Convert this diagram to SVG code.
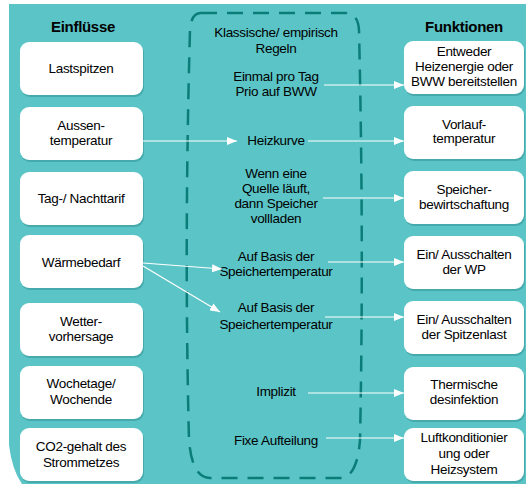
<svg xmlns="http://www.w3.org/2000/svg" width="526" height="484" viewBox="0 0 526 484">
  <style>
    .bg { fill: #5bc4c6; }
    .box { fill: #ffffff; }
    .shadow { fill: #46a9ab; }
    .txt { font-family: "Liberation Sans", Arial, sans-serif; font-size: 13.5px; fill: #000; text-anchor: middle; letter-spacing: -0.3px; }
    .hdr { font-family: "Liberation Sans", Arial, sans-serif; font-size: 15px; font-weight: bold; fill: #000; text-anchor: middle; letter-spacing: -0.3px; }
    .rules { fill: none; stroke: #0b7d78; stroke-width: 2.5; stroke-dasharray: 16 10; }
    .conn { stroke: #ffffff; stroke-width: 1.2; fill: none; marker-end: url(#arrow); }
    .plain { stroke: #ffffff; stroke-width: 1.2; fill: none; }
  </style>
  <defs>
    <marker id="arrow" viewBox="0 0 10 8" refX="10" refY="4" markerWidth="10" markerHeight="8" markerUnits="userSpaceOnUse" orient="auto">
      <path d="M0 0 L10 4 L0 8 Z" fill="#ffffff"/>
    </marker>
  </defs>

  <!-- backdrop -->
  <path class="bg" d="M9 4 H526 V484 H22 Q12 470 9 445 Z"/>

  <!-- column headers -->
  <text class="hdr" x="83" y="32">Einflüsse</text>
  <text class="hdr" x="464" y="32">Funktionen</text>

  <!-- rule column -->
  <g id="rules">
    <path class="rules" d="M201 13 L345 13 Q358 13 359 30 Q364 245 360 440 Q357 478 340 478 L210 478 Q192 478 189 440 Q184 245 190 30 Q191 13 201 13 Z"/>
    <text class="txt" x="276" y="37">Klassische/ empirisch</text>
    <text class="txt" x="276" y="53">Regeln</text>
    <text class="txt" x="276" y="81">Einmal pro Tag</text>
    <text class="txt" x="276" y="96">Prio auf BWW</text>
    <text class="txt" x="276" y="145">Heizkurve</text>
    <text class="txt" x="276" y="178">Wenn eine</text>
    <text class="txt" x="276" y="193">Quelle läuft,</text>
    <text class="txt" x="276" y="208">dann Speicher</text>
    <text class="txt" x="276" y="223">vollladen</text>
    <text class="txt" x="276" y="261">Auf Basis der</text>
    <text class="txt" x="276" y="276">Speichertemperatur</text>
    <text class="txt" x="276" y="312">Auf Basis der</text>
    <text class="txt" x="276" y="329">Speichertemperatur</text>
    <text class="txt" x="276" y="396">Implizit</text>
    <text class="txt" x="276" y="445">Fixe Aufteilung</text>
  </g>

  <!-- influences -->
  <g id="in-lastspitzen">
    <rect class="shadow" x="21" y="44" width="123" height="53" rx="9"/>
    <rect class="box" x="20" y="42" width="123" height="53" rx="9"/>
    <text class="txt" x="81" y="73">Lastspitzen</text>
  </g>
  <g id="in-aussentemperatur">
    <rect class="shadow" x="21" y="109" width="123" height="53" rx="9"/>
    <rect class="box" x="20" y="107" width="123" height="53" rx="9"/>
    <text class="txt" x="81" y="130">Aussen-</text>
    <text class="txt" x="81" y="145">temperatur</text>
  </g>
  <g id="in-tarif">
    <rect class="shadow" x="21" y="174" width="123" height="53" rx="9"/>
    <rect class="box" x="20" y="172" width="123" height="53" rx="9"/>
    <text class="txt" x="81" y="203">Tag-/ Nachttarif</text>
  </g>
  <g id="in-waermebedarf">
    <rect class="shadow" x="21" y="237" width="123" height="53" rx="9"/>
    <rect class="box" x="20" y="235" width="123" height="53" rx="9"/>
    <text class="txt" x="81" y="267">Wärmebedarf</text>
  </g>
  <g id="in-wetter">
    <rect class="shadow" x="21" y="305" width="123" height="53" rx="9"/>
    <rect class="box" x="20" y="303" width="123" height="53" rx="9"/>
    <text class="txt" x="81" y="326">Wetter-</text>
    <text class="txt" x="81" y="341">vorhersage</text>
  </g>
  <g id="in-wochentage">
    <rect class="shadow" x="21" y="368" width="123" height="53" rx="9"/>
    <rect class="box" x="20" y="366" width="123" height="53" rx="9"/>
    <text class="txt" x="81" y="388">Wochetage/</text>
    <text class="txt" x="81" y="404">Wochende</text>
  </g>
  <g id="in-co2">
    <rect class="shadow" x="21" y="430" width="123" height="53" rx="9"/>
    <rect class="box" x="20" y="428" width="123" height="53" rx="9"/>
    <text class="txt" x="81" y="451">CO2-gehalt des</text>
    <text class="txt" x="81" y="467">Strommetzes</text>
  </g>

  <!-- functions -->
  <g id="fn-bereitstellen">
    <rect class="shadow" x="405" y="43" width="120" height="53" rx="9"/>
    <rect class="box" x="404" y="41" width="120" height="53" rx="9"/>
    <text class="txt" x="464" y="56">Entweder</text>
    <text class="txt" x="464" y="71">Heizenergie oder</text>
    <text class="txt" x="464" y="86">BWW bereitstellen</text>
  </g>
  <g id="fn-vorlauf">
    <rect class="shadow" x="405" y="108" width="120" height="53" rx="9"/>
    <rect class="box" x="404" y="106" width="120" height="53" rx="9"/>
    <text class="txt" x="464" y="129">Vorlauf-</text>
    <text class="txt" x="464" y="143">temperatur</text>
  </g>
  <g id="fn-speicher">
    <rect class="shadow" x="405" y="173" width="120" height="53" rx="9"/>
    <rect class="box" x="404" y="171" width="120" height="53" rx="9"/>
    <text class="txt" x="464" y="194">Speicher-</text>
    <text class="txt" x="464" y="209">bewirtschaftung</text>
  </g>
  <g id="fn-wp">
    <rect class="shadow" x="405" y="238" width="120" height="53" rx="9"/>
    <rect class="box" x="404" y="236" width="120" height="53" rx="9"/>
    <text class="txt" x="464" y="259">Ein/ Ausschalten</text>
    <text class="txt" x="464" y="274">der WP</text>
  </g>
  <g id="fn-spitzenlast">
    <rect class="shadow" x="405" y="303" width="120" height="53" rx="9"/>
    <rect class="box" x="404" y="301" width="120" height="53" rx="9"/>
    <text class="txt" x="464" y="324">Ein/ Ausschalten</text>
    <text class="txt" x="464" y="339">der Spitzenlast</text>
  </g>
  <g id="fn-desinfektion">
    <rect class="shadow" x="405" y="369" width="120" height="53" rx="9"/>
    <rect class="box" x="404" y="367" width="120" height="53" rx="9"/>
    <text class="txt" x="464" y="389">Thermische</text>
    <text class="txt" x="464" y="404">desinfektion</text>
  </g>
  <g id="fn-luft">
    <rect class="shadow" x="405" y="430" width="120" height="53" rx="9"/>
    <rect class="box" x="404" y="428" width="120" height="53" rx="9"/>
    <text class="txt" x="464" y="442">Luftkonditionier</text>
    <text class="txt" x="464" y="458">ung oder</text>
    <text class="txt" x="464" y="474">Heizsystem</text>
  </g>

  <!-- connectors -->
  <g id="connectors">
    <line class="conn" x1="143" y1="141" x2="237" y2="141"/>
    <line class="conn" x1="308" y1="141" x2="404" y2="141"/>
    <line class="conn" x1="324" y1="85" x2="404" y2="85"/>
    <line class="conn" x1="323" y1="198" x2="404" y2="198"/>
    <line class="conn" x1="143" y1="263" x2="222" y2="269"/>
    <line class="conn" x1="143" y1="266" x2="220" y2="312"/>
    <line class="conn" x1="328" y1="262" x2="404" y2="262"/>
    <line class="conn" x1="325" y1="317" x2="404" y2="317"/>
    <line class="conn" x1="308" y1="393" x2="404" y2="393"/>
    <line class="conn" x1="326" y1="438" x2="404" y2="438"/>
  </g>
</svg>
